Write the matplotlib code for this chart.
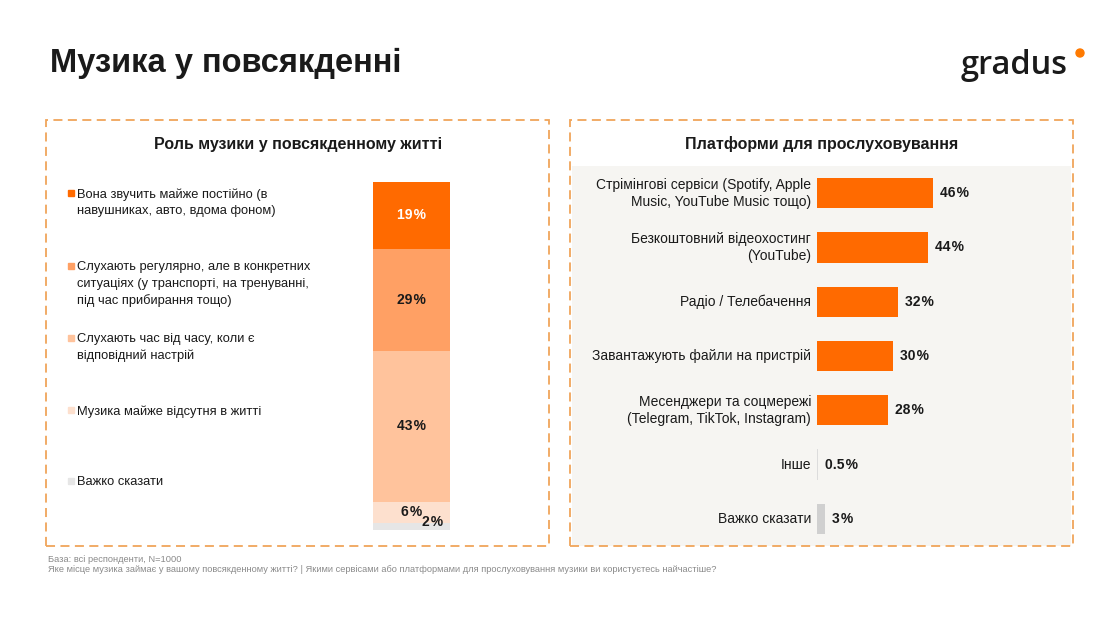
import matplotlib
matplotlib.use("Agg")
import matplotlib.pyplot as plt
import matplotlib.patches as patches

plt.rcParams['font.family'] = ['Liberation Sans', 'DejaVu Sans']

# --- дані ---
role_labels = [
    "Вона звучить майже постійно (в\nнавушниках, авто, вдома фоном)",
    "Слухають регулярно, але в конкретних\nситуаціях (у транспорті, на тренуванні,\nпід час прибирання тощо)",
    "Слухають час від часу, коли є\nвідповідний настрій",
    "Музика майже відсутня в житті",
    "Важко сказати",
]
role_values = [19, 29, 43, 6, 2]
role_colors = ["#FF6A00", "#FFA064", "#FFC39C", "#FDE0CE", "#E6E6E6"]

platform_labels = [
    "Стрімінгові сервіси (Spotify, Apple\nMusic, YouTube Music тощо)",
    "Безкоштовний відеохостинг\n(YouTube)",
    "Радіо / Телебачення",
    "Завантажують файли на пристрій",
    "Месенджери та соцмережі\n(Telegram, TikTok, Instagram)",
    "Інше",
    "Важко сказати",
]
platform_values = [46, 44, 32, 30, 28, 0.5, 3]
platform_value_text = ["46", "44", "32", "30", "28", "0.5", "3"]
platform_colors = ["#FF6A00"] * 5 + ["#DCDCDC", "#D0D0D0"]

W, H = 1120, 630
fig = plt.figure(figsize=(W / 100, H / 100), dpi=100)
fig.patch.set_facecolor("white")

PCT = "\u200a%"  # тонкий проміжок перед знаком відсотка


def fx(px):
    return px / W


def fy(py):
    return 1 - py / H


# заголовок і логотип
fig.text(fx(50), fy(63), "Музика у повсякденні", fontsize=23.5, fontweight="bold",
         color="#1a1a1a", va="center", ha="left")
fig.text(fx(961), fy(66), "gradus", fontsize=23.5, color="#1a1a1a", va="center",
         ha="left", family="Open Sans", fontweight=600)
fig.patches.append(patches.Ellipse((fx(1080), fy(53)), fx(8), 8 / H, transform=fig.transFigure,
                                   color="#FF7A00", figure=fig))

# рамки панелей
border = "#F0A55A"
fig.patches.append(patches.Rectangle((fx(572), fy(546)), fx(499), 380 / H,
                                     transform=fig.transFigure, facecolor="#F6F5F2",
                                     edgecolor="none", figure=fig, zorder=-5))
for x0 in (46, 570):
    fig.patches.append(patches.Rectangle((fx(x0), fy(546)), fx(503), 426 / H,
                                         transform=fig.transFigure, facecolor="none",
                                         edgecolor=border, linewidth=1.3,
                                         linestyle=(0, (5, 3)), figure=fig))

fig.text(fx(298), fy(144), "Роль музики у повсякденному житті", fontsize=11.5,
         fontweight="bold", ha="center", va="center", color="#1a1a1a")
fig.text(fx(822), fy(144), "Платформи для прослуховування", fontsize=11.5,
         fontweight="bold", ha="center", va="center", color="#1a1a1a")

# --- ліва панель: стовпчик з накопиченням ---
total = sum(role_values)
ax1 = fig.add_axes([fx(373), fy(530), fx(77), 348 / H])
bottom = 0
for val, col in zip(role_values, role_colors):
    ax1.bar(0, val, bottom=bottom, width=1, color=col, edgecolor="none")
    bottom += val
ax1.set_xlim(-0.5, 0.5)
ax1.set_ylim(total, 0)
ax1.axis("off")

bottom = 0
for i, val in enumerate(role_values):
    cy = bottom + val / 2
    dx = 0
    if val < 3:
        dx, cy = 0.28, bottom - 0.3
    ax1.text(dx, cy, f"{val}{PCT}", ha="center", va="center", fontsize=10, fontweight="bold",
             color="white" if i == 0 else "#1a1a1a")
    bottom += val

legend_y = [193, 266, 338, 410, 481]
for lab, col, ly in zip(role_labels, role_colors, legend_y):
    fig.patches.append(patches.Rectangle((fx(68), fy(ly + 3)), fx(6), 6 / H,
                                         transform=fig.transFigure, color=col, figure=fig))
    fig.text(fx(77), fy(ly - 5), lab, fontsize=9.3, ha="left", va="top",
             color="#1a1a1a", linespacing=1.5)

# --- права панель: горизонтальні стовпчики ---
ax2 = fig.add_axes([fx(817), fy(546), fx(243), 380 / H])
ypos = list(range(len(platform_values)))
ax2.barh(ypos, platform_values, height=0.56, color=platform_colors, edgecolor="none")
ax2.set_xlim(0, 243 / 2.52)
ax2.set_ylim(len(platform_values) - 0.5, -0.5)
ax2.axis("off")
ax2.patch.set_alpha(0)
for y, v, t in zip(ypos, platform_values, platform_value_text):
    ax2.text(v + 2.8, y, t + PCT, ha="left", va="center", fontsize=10, fontweight="bold",
             color="#1a1a1a")
    ax2.text(-2.3, y, platform_labels[y], ha="right", va="center", fontsize=10,
             color="#1a1a1a", linespacing=1.28)

# примітки
fig.text(fx(48), fy(560), "База: всі респонденти, N=1000", fontsize=6.7,
         color="#8a8a8a", va="center")
fig.text(fx(48), fy(570), "Яке місце музика займає у вашому повсякденному житті? | "
         "Якими сервісами або платформами для прослуховування музики ви користуєтесь найчастіше?",
         fontsize=6.7, color="#8a8a8a", va="center")

fig.savefig("out.png", dpi=100, facecolor="white")
